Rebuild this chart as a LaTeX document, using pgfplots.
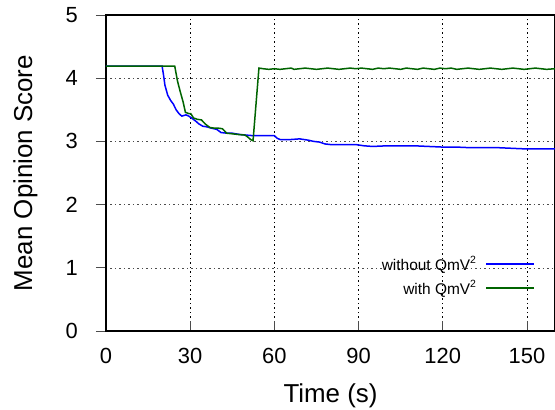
\documentclass[border=0pt]{standalone}
\usepackage{fontspec}
\setmainfont{Liberation Sans}
\usepackage{pgfplots}
\pgfplotsset{compat=1.18}
\definecolor{lineBlue}{HTML}{0000FF}
\definecolor{lineGreen}{HTML}{006400}
\newcommand{\sqr}{\raisebox{0.42em}{\fontsize{10.5}{12}\selectfont 2}}

\begin{document}
\begin{tikzpicture}
\begin{axis}[
    at={(0,0)}, anchor=south west,
    scale only axis, width=449bp, height=316bp,
    xmin=0, xmax=160, ymin=0, ymax=5,
    xtick={0,30,60,90,120,150}, ytick={0,1,2,3,4,5},
    tick pos=left, tick align=inside, major tick length=10bp,
    ytick style={xshift=-10bp},
    every tick/.style={black!70, line width=0.8bp},
    axis line style={line width=1.6bp, black},
    grid=major,
    x grid style={black, line width=0.6bp, dash pattern=on 1.5bp off 3bp},
    y grid style={black!70, line width=0.6bp, dash pattern=on 1.5bp off 3bp},
    /pgf/number format/assume math mode=true,
    tick label style={font=\fontsize{22}{26}\selectfont, inner sep=0pt},
    yticklabel style={anchor=east, xshift=-28bp},
    xticklabel style={anchor=north, yshift=-17bp},
    xlabel={Time (s)}, ylabel={Mean Opinion Score},
    label style={font=\fontsize{26}{30}\selectfont, inner sep=0pt},
    xlabel style={at={(axis description cs:0.5,-0.2247)}, anchor=base},
    ylabel style={at={(axis description cs:-0.1648,0.5)}, anchor=base},
    legend plot pos=right,
    legend cell align=right,
    legend style={draw=none, fill=none, at={(axis description cs:0.956,0.243)},
        anchor=north east, font=\fontsize{15.5}{18}\selectfont,
        row sep=5bp, inner sep=0pt,
        /tikz/every odd column/.append style={column sep=7bp}},
    legend image code/.code={\draw[#1] (0bp,0bp) -- (48bp,0bp);},
    legend image post style={line width=2bp},
]
\addplot[lineBlue, line width=1.5bp] coordinates {
(0,4.19) (20,4.19) (20.5,4.05) (21,3.89) (22,3.73) (23,3.65) (24,3.59)
(25,3.50) (26,3.44) (27,3.40) (28.5,3.42) (29.5,3.40) (30.5,3.37) (32,3.32)
(33,3.28) (34.5,3.24) (36,3.23) (37.5,3.21) (39.5,3.19) (41,3.14) (43,3.13)
(45,3.13) (47.5,3.11) (50,3.10) (52.5,3.09) (55,3.09) (58,3.09) (60,3.09)
(61,3.05) (62,3.03) (66,3.03) (69,3.04) (72,3.02) (74,3.00) (76,2.99)
(78,2.96) (80,2.95) (85,2.95) (89,2.95) (92,2.93) (95,2.92) (100,2.93)
(105,2.93) (110,2.93) (115,2.92) (120,2.91) (125,2.91) (130,2.90) (135,2.90)
(140,2.90) (145,2.89) (150,2.88) (155,2.88) (160,2.88)
};
\addlegendentry{without QmV\sqr}
\addplot[lineGreen, line width=1.5bp] coordinates {
(0,4.19) (24.5,4.19) (25.5,3.95) (26.5,3.78) (27.5,3.62) (28.3,3.46)
(29.5,3.44) (30.2,3.44) (31.2,3.37) (32.5,3.35) (34,3.34) (35.5,3.27)
(37,3.22) (38.5,3.21) (40,3.21) (41.5,3.20) (43,3.13) (45,3.12) (47,3.11)
(49.5,3.10) (50.5,3.07) (51.5,3.03) (52.4,3.01) (54.5,4.16) (56,4.15)
(58,4.14) (60,4.15) (62,4.14) (64,4.15) (66,4.16) (67,4.14) (69,4.15)
(71,4.16) (73,4.15) (75,4.14) (77,4.15) (79,4.16) (81,4.15) (83,4.14)
(85,4.15) (87,4.16) (89,4.15) (91,4.16) (93,4.15) (95,4.14) (97,4.16)
(99,4.15) (101,4.16) (103,4.15) (105,4.14) (107,4.16) (109,4.15) (111,4.14)
(113,4.16) (115,4.15) (117,4.14) (119,4.16) (121,4.15) (123,4.16) (125,4.14)
(127,4.15) (129,4.16) (131,4.15) (133,4.14) (135,4.15) (137,4.16) (139,4.15)
(141,4.14) (143,4.15) (145,4.16) (147,4.15) (149,4.14) (151,4.15) (153,4.16)
(155,4.15) (157,4.14) (160,4.15)
};
\addlegendentry{with QmV\sqr}
\end{axis}
\pgfresetboundingbox
\path[use as bounding box] (-106bp,-79bp) rectangle (449bp,331bp);
\end{tikzpicture}
\end{document}
